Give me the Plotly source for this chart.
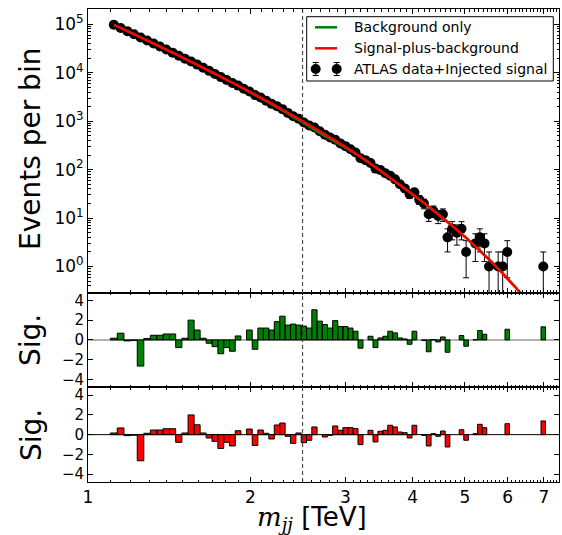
import plotly.graph_objects as go

# ---------------- data ----------------
edges = [1.100, 1.133, 1.166, 1.200, 1.234, 1.269, 1.305, 1.341, 1.378, 1.416,
         1.454, 1.493, 1.533, 1.573, 1.614, 1.656, 1.698, 1.741, 1.785, 1.830,
         1.875, 1.921, 1.968, 2.016, 2.065, 2.114, 2.164, 2.215, 2.267, 2.320,
         2.374, 2.429, 2.485, 2.542, 2.600, 2.659, 2.719, 2.780, 2.842, 2.905,
         2.969, 3.034, 3.100, 3.167, 3.235, 3.305, 3.376, 3.448, 3.521, 3.596,
         3.672, 3.749, 3.827, 3.907, 3.988, 4.070, 4.154, 4.239, 4.326, 4.414,
         4.504, 4.595, 4.688, 4.782, 4.878, 4.975, 5.074, 5.175, 5.277, 5.381,
         5.487, 5.595, 5.705, 5.817, 5.931, 6.047, 6.165, 6.285, 6.407, 6.531,
         6.658, 6.787, 6.918, 7.052]

counts = [97350, 84000, 72070, 62250, 53160, 46410, 40180, 34760, 30030, 25980,
          22320, 19430, 17080, 14700, 12640, 10920, 9444, 8123, 7084, 6119,
          5419, 4680, 4091, 3451, 3074, 2651, 2275, 2034, 1772, 1483,
          1259, 1120, 939, 816, 739, 619, 527, 459, 414, 348,
          305, 263, 225, 171, 157, 137, 105, 98, 84, 75,
          63, 50, 41, 31, 34, 24, 20, 12, 14, 11,
          12, 4, 6, 5, 6, 2, 0, 3, 4, 3,
          1, 0, 1, 1, 2, 0, 0, 0, 0, 0,
          0, 0, 1]

fit_sb = [97300, 83800, 72100, 62260, 53760, 46380, 40090, 34670, 29930, 25880,
          22440, 19410, 16820, 14580, 12620, 10960, 9510, 8250, 7150, 6210,
          5390, 4680, 4055, 3516, 3048, 2644, 2296, 1990, 1723, 1490,
          1291, 1114, 964, 832, 718, 619, 533, 460, 396, 340,
          293, 252, 216, 185, 157, 132, 112.5, 94.7, 79.8, 67.1,
          56.5, 47.9, 40.5, 34.2, 28.9, 24.4, 20.5, 17.2, 14.4, 12.0,
          10.0, 8.33, 6.91, 5.71, 4.72, 3.89, 3.18, 2.60, 2.12, 1.72,
          1.40, 1.13, 0.90, 0.72, 0.57, 0.45, 0.356, 0.279, 0.217]

fit_b = [97300, 83800, 72100, 62260, 53760, 46380, 40090, 34670, 29930, 25880,
         22440, 19410, 16820, 14580, 12620, 10960, 9510, 8250, 7150, 6210,
         5390, 4680, 3974, 3446, 2987, 2591, 2239, 1930, 1671, 1438,
         1214, 1058, 906, 782, 661, 569, 493, 432, 374, 323,
         283, 244, 213, 183, 157, 132, 112.5, 94.7, 79.8, 67.1,
         56.5, 47.9, 40.5, 34.2, 28.9, 24.4, 20.5, 17.2, 14.4, 12.0,
         10.0, 8.33, 6.91, 5.71, 4.72, 3.89, 3.18, 2.60, 2.12, 1.72,
         1.40, 1.13, 0.90, 0.72, 0.57, 0.45, 0.356, 0.279, 0.217]

sig_b = [0.17, 0.68, -0.1, -0.05, -2.65, 0.14, 0.47, 0.47, 0.6, 0.6,
         -0.78, 0.17, 2.0, 1.0, 0.17, -0.34, -0.68, -1.4, -0.78, -1.15,
         0.4, None, 1.0, -0.95, 1.2, 1.2, 1.0, 1.85, 2.4, 1.5,
         1.6, 1.5, 1.4, 1.2, 3.05, 1.9, 1.55, 1.2, 1.95, 1.35,
         1.35, 1.2, 0.88, -0.84, None, 0.37, -0.78, 0.2, 0.37, 0.88,
         0.71, 0.2, 0.1, -0.44, 0.88, None, -0.05, -1.2, 0.03, -0.2,
         0.3, -1.25, None, None, 0.44, -0.64, None, 0.02, 0.95, 0.57,
         None, None, None, None, 1.08, None, None, None, None, None,
         None, None, 1.32]

sig_sb = [0.17, 0.68, -0.1, -0.05, -2.65, 0.14, 0.47, 0.47, 0.6, 0.6,
          -0.78, 0.17, 2.0, 1.0, 0.17, -0.34, -0.68, -1.4, -0.78, -1.15,
          0.4, None, 0.57, -1.1, 0.47, 0.14, -0.44, 0.98, 1.18, -0.17,
          -0.88, 0.17, -0.81, -0.57, 0.78, None, -0.24, -0.07, 0.88, 0.44,
          0.71, 0.71, 0.61, -1.01, None, 0.44, -0.74, 0.34, 0.44, 0.95,
          0.78, 0.27, 0.2, -0.34, 0.95, None, -0.07, -1.15, 0.1, -0.17,
          0.37, -1.25, None, None, 0.5, -0.57, None, 0.1, 1.05, 0.71,
          None, None, None, None, 1.11, None, None, None, None, None,
          None, None, 1.39]

signal_mass = 2.5
x_ticks = [1, 2, 3, 4, 5, 6, 7]
y_ticks = [1, 10, 100, 1000, 10000, 100000]
y_ticktext = ["10<sup>0</sup>", "10<sup>1</sup>", "10<sup>2</sup>",
              "10<sup>3</sup>", "10<sup>4</sup>", "10<sup>5</sup>"]
sig_ticks = [-4, -2, 0, 2, 4]
sig_ticktext = ["\u22124", "\u22122", "0", "2", "4"]

# ---------------- derived ----------------
centers = [(edges[i] + edges[i + 1]) / 2 for i in range(len(edges) - 1)]
pts_x = [c for c, n in zip(centers, counts) if n > 0]
pts_y = [n for n in counts if n > 0]
pts_err = [n ** 0.5 for n in pts_y]


def bar_path(vals):
    xs, ys = [], []
    for i, v in enumerate(vals):
        if v is None:
            continue
        lo, hi = edges[i], edges[i + 1]
        xs += [lo, lo, hi, hi, lo, None]
        ys += [0, v, v, 0, 0, None]
    return xs, ys


GREEN = "#008000"
RED = "#ff0000"
FONT = "DejaVu Sans"

fig = go.Figure()

# top panel
fig.add_trace(go.Scatter(
    x=pts_x, y=pts_y, mode="markers",
    marker=dict(color="black", size=10),
    error_y=dict(type="data", array=pts_err, color="black", thickness=1, width=3),
    xaxis="x", yaxis="y", showlegend=False))
fig.add_trace(go.Scatter(
    x=centers[:len(fit_b)], y=fit_b, mode="lines",
    line=dict(color=GREEN, width=2.5, shape="spline"),
    xaxis="x", yaxis="y", showlegend=False))
fig.add_trace(go.Scatter(
    x=centers[:len(fit_sb)], y=fit_sb, mode="lines",
    line=dict(color=RED, width=2.5, shape="spline"),
    xaxis="x", yaxis="y", showlegend=False))

# residual panels
bx, by = bar_path(sig_b)
fig.add_trace(go.Scatter(x=bx, y=by, mode="lines", fill="toself",
                         fillcolor=GREEN, line=dict(color="black", width=1),
                         xaxis="x2", yaxis="y2", showlegend=False))
rx, ry = bar_path(sig_sb)
fig.add_trace(go.Scatter(x=rx, y=ry, mode="lines", fill="toself",
                         fillcolor=RED, line=dict(color="black", width=1),
                         xaxis="x3", yaxis="y3", showlegend=False))

# ---------------- layout ----------------
L, R, T, B = 88, 3, 9, 53
W, H = 562, 535
pw, ph = W - L - R, H - T - B


def px2x(p):
    return (p - L) / pw


def px2y(p):
    return (H - B - p) / ph


d_bot = (0, px2y(387.3))
d_mid = (px2y(387.3), px2y(292.5))
d_top = (px2y(292.5), 1)

minor_x = [round(v / 10, 1) for v in range(11, 75) if v % 10 != 0]
minor_y = [k * 10 ** d for d in range(-1, 6) for k in range(2, 10)]

xcommon = dict(type="log", range=[0, 0.8733], showline=True, linecolor="black",
               linewidth=1, mirror="allticks", ticks="inside", ticklen=5,
               tickcolor="black", tickvals=x_ticks, showgrid=False,
               zeroline=False,
               minor=dict(tickvals=minor_x, ticks="inside", ticklen=2.5,
                          tickcolor="black", showgrid=False),
               tickfont=dict(family=FONT, size=17, color="black"))

ycommon = dict(showline=True, linecolor="black", linewidth=1, mirror="allticks",
               ticks="inside", ticklen=5, tickcolor="black", showgrid=False,
               zeroline=False)

fig.update_layout(
    width=W, height=H, margin=dict(l=L, r=R, t=T, b=B),
    paper_bgcolor="white", plot_bgcolor="white", showlegend=False,
    xaxis=dict(**xcommon, anchor="y", domain=[0, 1], showticklabels=False),
    xaxis2=dict(**xcommon, anchor="y2", domain=[0, 1], matches="x",
                showticklabels=False),
    xaxis3=dict(**xcommon, anchor="y3", domain=[0, 1], matches="x",
                ticktext=[str(v) for v in x_ticks]),
    yaxis=dict(**ycommon, type="log", range=[-0.536, 5.315], domain=list(d_top),
               tickvals=y_ticks, ticktext=y_ticktext,
               tickfont=dict(family=FONT, size=17, color="black"),
               minor=dict(tickvals=minor_y, ticks="inside", ticklen=2.5,
                          tickcolor="black", showgrid=False)),
    yaxis2=dict(**ycommon, range=[-4.8, 4.8], domain=list(d_mid),
                tickvals=sig_ticks, ticktext=sig_ticktext,
                tickfont=dict(family=FONT, size=15, color="black")),
    yaxis3=dict(**ycommon, range=[-4.8, 4.8], domain=list(d_bot),
                tickvals=sig_ticks, ticktext=sig_ticktext,
                tickfont=dict(family=FONT, size=15, color="black")),
)

shapes = [
    dict(type="line", xref="x", yref="paper", x0=signal_mass, x1=signal_mass,
         y0=0, y1=1, line=dict(color="#333333", width=1, dash="4px,3px")),
    dict(type="line", xref="paper", yref="y2", x0=0, x1=1, y0=0, y1=0,
         line=dict(color="#999999", width=1.5), layer="below"),
    dict(type="line", xref="paper", yref="y3", x0=0, x1=1, y0=0, y1=0,
         line=dict(color="black", width=1), layer="below"),
    # legend frame
    dict(type="rect", xref="paper", yref="paper", x0=px2x(306.7), x1=px2x(553.3),
         y0=px2y(81), y1=px2y(16.7), line=dict(color="black", width=1),
         fillcolor="white", layer="below"),
    dict(type="line", xref="paper", yref="paper", x0=px2x(315), x1=px2x(337),
         y0=px2y(27.3), y1=px2y(27.3), line=dict(color=GREEN, width=2.5)),
    dict(type="line", xref="paper", yref="paper", x0=px2x(315), x1=px2x(337),
         y0=px2y(48.3), y1=px2y(48.3), line=dict(color=RED, width=2.5)),
]
for xp in (315.7, 336.7):
    shapes.append(dict(type="line", xref="paper", yref="paper", x0=px2x(xp), x1=px2x(xp),
                       y0=px2y(75.5), y1=px2y(62.5), line=dict(color="black", width=1)))
    for yp in (75.5, 62.5):
        shapes.append(dict(type="line", xref="paper", yref="paper",
                           x0=px2x(xp - 3), x1=px2x(xp + 3), y0=px2y(yp), y1=px2y(yp),
                           line=dict(color="black", width=1)))
    shapes.append(dict(type="circle", xref="paper", yref="paper",
                       x0=px2x(xp - 5), x1=px2x(xp + 5), y0=px2y(74), y1=px2y(64),
                       fillcolor="black", line=dict(color="black", width=0)))
fig.update_layout(shapes=shapes)

ann = []
leg_labels = ["Background only", "Signal-plus-background", "ATLAS data+Injected signal"]
for lab, yp in zip(leg_labels, (27.3, 48.3, 69)):
    ann.append(dict(text=lab, xref="paper", yref="paper", x=px2x(351.7), y=px2y(yp),
                    xanchor="left", yanchor="middle", showarrow=False,
                    font=dict(family=FONT, size=14, color="black")))
ann.append(dict(text="Events per bin", xref="paper", yref="paper", x=px2x(30), y=px2y(149),
                textangle=-90, showarrow=False, xanchor="center", yanchor="middle",
                font=dict(family=FONT, size=28, color="black")))
ann.append(dict(text="Sig.", xref="paper", yref="paper", x=px2x(31), y=px2y(340),
                textangle=-90, showarrow=False, xanchor="center", yanchor="middle",
                font=dict(family=FONT, size=28, color="black")))
ann.append(dict(text="Sig.", xref="paper", yref="paper", x=px2x(31), y=px2y(435),
                textangle=-90, showarrow=False, xanchor="center", yanchor="middle",
                font=dict(family=FONT, size=28, color="black")))
ann.append(dict(text="<span style=\"font-family:'DejaVu Serif'\"><i>m</i><sub><i>jj</i></sub></span> [TeV]",
                xref="paper", yref="paper", x=px2x(312), y=px2y(518.5),
                showarrow=False, xanchor="center", yanchor="middle",
                font=dict(family=FONT, size=26, color="black")))
fig.update_layout(annotations=ann)

fig.write_html("out.html")
